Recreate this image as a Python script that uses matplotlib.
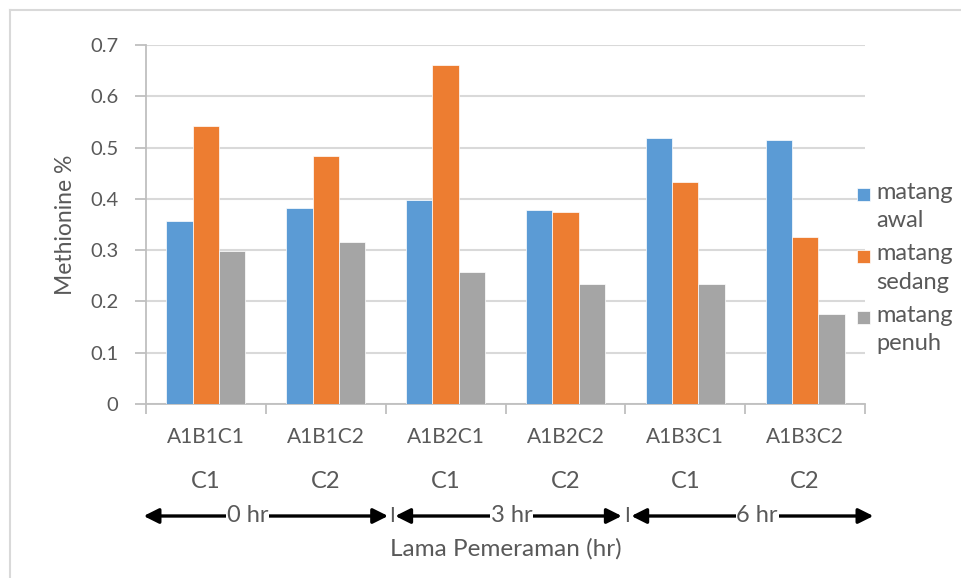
import numpy as np
import matplotlib
matplotlib.use('Agg')
import matplotlib.pyplot as plt
from matplotlib.lines import Line2D
from matplotlib.patches import Rectangle
from matplotlib.container import BarContainer
from matplotlib.legend_handler import HandlerPatch, update_from_first_child
import matplotlib.transforms as mtransforms

# --- DATA ---
categories = ['A1B1C1', 'A1B1C2', 'A1B2C1', 'A1B2C2', 'A1B3C1', 'A1B3C2']
sub_labels = ['C1', 'C2', 'C1', 'C2', 'C1', 'C2']
awal = [0.356, 0.383, 0.398, 0.378, 0.518, 0.515]
sedang = [0.542, 0.484, 0.661, 0.375, 0.432, 0.326]
penuh = [0.298, 0.316, 0.258, 0.234, 0.234, 0.176]
series_names = ['matang\nawal', 'matang\nsedang', 'matang\npenuh']
periods = ['0 hr', '3 hr', '6 hr']
yticks = [0, 0.1, 0.2, 0.3, 0.4, 0.5, 0.6, 0.7]

colors = ['#5B9BD5', '#ED7D31', '#A5A5A5']
txt = '#595959'
plt.rcParams['font.family'] = ['Lato', 'DejaVu Sans']

fig = plt.figure(figsize=(9.61, 5.78), dpi=100)
ax = fig.add_axes([146/961, 1 - 404/578, 719/961, 359/578])

x = np.arange(len(categories))
w = 0.22
for i, vals in enumerate([awal, sedang, penuh]):
    ax.bar(x + (i - 1) * w, vals, w, color=colors[i], label=series_names[i],
           edgecolor='white', linewidth=0.5, zorder=3)

ax.set_xlim(-0.5, len(categories) - 0.5)
ax.set_ylim(0, 0.7)
ax.set_yticks(yticks)
ax.set_yticklabels(['0'] + [f'{v:.1f}' for v in yticks[1:]])
ax.grid(axis='y', color='#d9d9d9', linewidth=1.5, zorder=0)

for s in ['top', 'right']:
    ax.spines[s].set_visible(False)
for s in ['left', 'bottom']:
    ax.spines[s].set_color('#bfbfbf')
    ax.spines[s].set_linewidth(1.3)

ax.set_xticks(np.arange(-0.5, len(categories), 1.0))
ax.set_xticklabels([])
ax.tick_params(axis='x', direction='out', length=7, color='#bfbfbf', width=1.3)
ax.tick_params(axis='y', direction='out', length=8, color='#bfbfbf', width=1.3,
               labelsize=14.5, labelcolor=txt, pad=12)

ax.set_ylabel('Methionine %', fontsize=16.5, color=txt)
ax.yaxis.set_label_coords(-70/719, 0.5)

trans = mtransforms.blended_transform_factory(ax.transData, ax.transAxes)
for xi, cat, sub in zip(x, categories, sub_labels):
    ax.text(xi, -33/359, cat, transform=trans, ha='center', va='center',
            fontsize=15, color=txt)
    ax.text(xi, -77/359, sub, transform=trans, ha='center', va='center',
            fontsize=17, color=txt)

# period arrows
ya = -112/359
spans = [(-0.52, 1.52), (1.58, 3.47), (3.55, 5.57)]
label_x = [0.35, 2.55, 4.6]
for (a, b), lab, lx in zip(spans, periods, label_x):
    ax.annotate('', xy=(b, ya), xytext=(a, ya), xycoords=trans, textcoords=trans,
                arrowprops=dict(arrowstyle='<|-|>,head_length=0.9,head_width=0.45',
                                color='black', lw=2.4, shrinkA=0, shrinkB=0),
                annotation_clip=False)
    ax.text(lx, ya, lab, transform=trans, ha='center', va='center', fontsize=17,
            color=txt, bbox=dict(facecolor='white', edgecolor='none', pad=0.5))
for sx in [1.55, 3.51]:
    ax.text(sx, ya, 'I', transform=trans, ha='center', va='center', fontsize=15,
            color=txt)

ax.text(0.5, -145/359, 'Lama Pemeraman (hr)', transform=ax.transAxes,
        ha='center', va='center', fontsize=17.5, color=txt)


# legend: square aligned with the first text line
def top_square(legend, orig_handle, xdescent, ydescent, width, height, fontsize):
    sq = 0.55 * fontsize
    return Rectangle((-xdescent, -ydescent + height - sq + 0.05 * fontsize), sq, sq)


leg = fig.legend(loc='center left', bbox_to_anchor=(857/961, 1 - 268/578),
                 frameon=False, fontsize=17, labelcolor=txt, handlelength=0.55,
                 handleheight=2.0, handletextpad=0.25, labelspacing=0.5,
                 borderaxespad=0, borderpad=0,
                 handler_map={BarContainer: HandlerPatch(
                     patch_func=top_square, update_func=update_from_first_child)})
for t in leg.get_texts():
    t.set_linespacing(1.45)

# chart area border (top and left only visible)
fig.add_artist(Line2D([10/961, 1], [1 - 10/578, 1 - 10/578], color='#d9d9d9',
                      lw=1.5, transform=fig.transFigure))
fig.add_artist(Line2D([10/961, 10/961], [0, 1 - 10/578], color='#d9d9d9',
                      lw=1.5, transform=fig.transFigure))

fig.savefig('out.png', dpi=100)
